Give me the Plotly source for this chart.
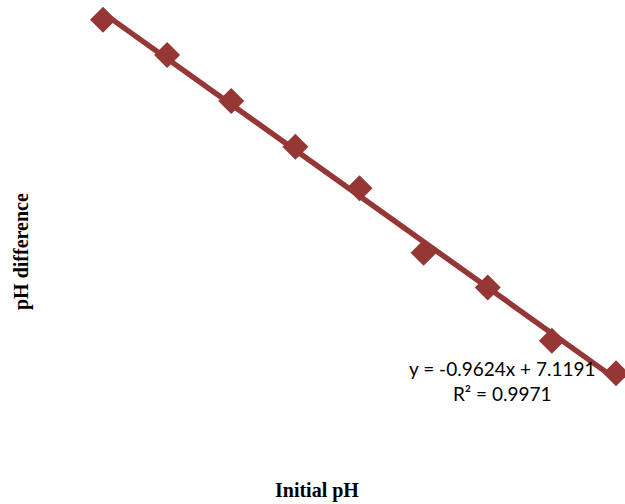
import plotly.graph_objects as go

initial_ph = [2, 3, 4, 5, 6, 7, 8, 9, 10]
ph_difference = [5.05, 4.31, 3.34, 2.38, 1.51, 0.15, -0.58, -1.70, -2.38]
trend_slope = -0.9624
trend_intercept = 7.1191
eq_text = "y = -0.9624x + 7.1191<br>R² = 0.9971"

color = "#953735"
tx = [initial_ph[0], initial_ph[-1]]
ty = [trend_slope * v + trend_intercept for v in tx]

fig = go.Figure()
fig.add_trace(go.Scatter(x=initial_ph, y=ph_difference, mode="markers",
                         marker=dict(symbol="diamond", size=20, color=color),
                         showlegend=False, hoverinfo="skip"))
fig.add_trace(go.Scatter(x=tx, y=ty, mode="lines",
                         line=dict(color=color, width=5.5),
                         showlegend=False, hoverinfo="skip"))

W, H, L = 585, 470, 40


def px2paper(px, py):
    return (px - L) / W, (H - py) / H


ex, ey = px2paper(502, 381)
fig.add_annotation(text=eq_text, x=ex, y=ey, xref="paper", yref="paper",
                   showarrow=False, align="center", xanchor="center", yanchor="middle",
                   font=dict(family="Lato, Open Sans, sans-serif", size=19, color="#000000"))
ax_, ay_ = px2paper(21, 252)
fig.add_annotation(text="<b>pH difference</b>", x=ax_, y=ay_, xref="paper", yref="paper",
                   showarrow=False, textangle=-90, xanchor="center", yanchor="middle",
                   font=dict(family="Liberation Serif, Times New Roman, serif", size=20, color="#000000"))
bx, by = px2paper(317, 491)
fig.add_annotation(text="<b>Initial pH</b>", x=bx, y=by, xref="paper", yref="paper",
                   showarrow=False, xanchor="center", yanchor="middle",
                   font=dict(family="Liberation Serif, Times New Roman, serif", size=20, color="#000000"))

fig.update_layout(
    width=625, height=504,
    margin=dict(l=L, r=0, t=0, b=504 - H),
    paper_bgcolor="white", plot_bgcolor="white",
    xaxis=dict(range=[1.018, 10.14], visible=False),
    yaxis=dict(range=[-4.415, 5.465], visible=False),
)
fig.write_html("out.html")
